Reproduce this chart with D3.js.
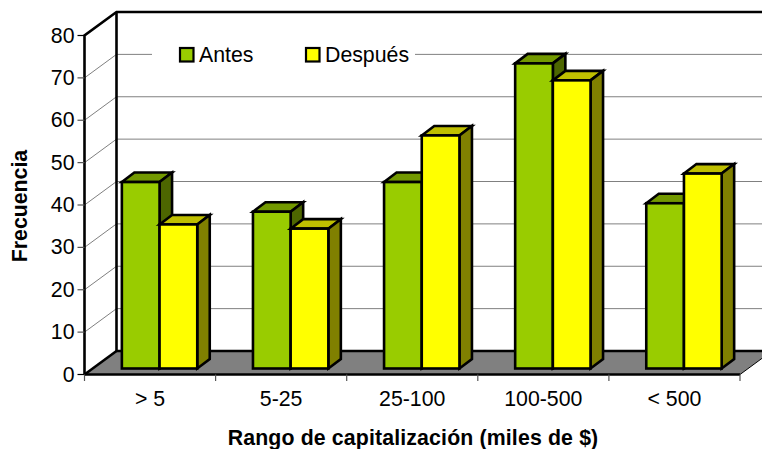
<!DOCTYPE html>
<html>
<head>
<meta charset="utf-8">
<script src="https://cdn.jsdelivr.net/npm/d3@7"></script>
<style>
  html, body { margin: 0; padding: 0; background: #fff; }
  svg { display: block; }
  text { font-family: "Liberation Sans", Arial, Helvetica, sans-serif; fill: #000; }
</style>
</head>
<body>
<script>
const categories = ["> 5", "5-25", "25-100", "100-500", "< 500"];
const antes = [44, 37, 44, 72, 39];
const despues = [34, 33, 55, 68, 46];
const seriesNames = ["Antes", "Después"];
const yTicks = [0, 10, 20, 30, 40, 50, 60, 70, 80];

const width = 762;
const height = 449;
// front plane of the 3D box, the back wall sits at (+depthX, -depthY)
const plot = { left: 84.5, right: 740, top: 35.5, bottom: 374.5 };
const depthX = 32;
const depthY = 23.5;
// bars stand a little behind the front edge and have their own depth
const barShiftY = 6;
const barDepthX = 12.5;
const barDepthY = 9.5;
const fontSize = 21.3;

const colors = {
  antes: { front: "#99cc00", top: "#739900", side: "#4d6600" },
  despues: { front: "#ffff00", top: "#bfbf00", side: "#808000" },
  floor: "#808080",
  grid: "#808080",
};

const svg = d3.select("body")
  .append("svg")
  .attr("width", width)
  .attr("height", height)
  .attr("viewBox", `0 0 ${width} ${height}`);

const y = d3.scaleLinear().domain([0, 80]).range([plot.bottom, plot.top]);
const x = d3.scaleBand().domain(categories).range([plot.left, plot.right]).paddingInner(0).paddingOuter(0);
const inner = d3.scaleBand().domain(seriesNames).range([x.bandwidth() * 0.285, x.bandwidth() * 0.86]);

const poly = (pts) => pts.map((p) => p.join(",")).join(" ");

// gridlines on the back and side walls
const grid = svg.append("g").attr("fill", "none").attr("stroke", colors.grid).attr("stroke-width", 1);
yTicks.filter((d) => d > 0 && d < 80).forEach((d) => {
  grid.append("line")
    .attr("x1", plot.left).attr("y1", y(d))
    .attr("x2", plot.left + depthX).attr("y2", y(d) - depthY);
  grid.append("line")
    .attr("x1", plot.left + depthX).attr("y1", y(d) - depthY)
    .attr("x2", width).attr("y2", y(d) - depthY);
});

// floor
svg.append("polygon")
  .attr("points", poly([
    [plot.left, plot.bottom],
    [plot.left + depthX, plot.bottom - depthY],
    [plot.right + depthX, plot.bottom - depthY],
    [plot.right, plot.bottom],
  ]))
  .attr("fill", colors.floor)
  .attr("stroke", "#000")
  .attr("stroke-width", 1);

// wall edges
const edges = svg.append("g").attr("stroke", "#000").attr("fill", "none").attr("stroke-width", 2.6);
edges.append("path").attr("d", d3.line()([
  [plot.left, plot.bottom],
  [plot.left, plot.top],
  [plot.left + depthX, plot.top - depthY],
  [width, plot.top - depthY],
]));
edges.append("path").attr("d", d3.line()([
  [plot.left + depthX, plot.top - depthY],
  [plot.left + depthX, plot.bottom - depthY],
  [width, plot.bottom - depthY],
]));
edges.append("path").attr("d", d3.line()([
  [plot.left, plot.bottom],
  [plot.right, plot.bottom],
]));
edges.append("path").attr("d", d3.line()([
  [plot.left, plot.bottom],
  [plot.left + depthX, plot.bottom - depthY],
]));

// bars
const rows = [
  { name: seriesNames[0], values: antes, c: colors.antes },
  { name: seriesNames[1], values: despues, c: colors.despues },
];
const bars = svg.append("g").attr("stroke", "#000").attr("stroke-width", 2.6).attr("stroke-linejoin", "miter");
categories.forEach((cat, i) => {
  rows.forEach((row) => {
    const x0 = x(cat) + inner(row.name);
    const x1 = x0 + inner.bandwidth();
    const yb = y(0) - barShiftY;
    const yt = y(row.values[i]) - barShiftY;
    bars.append("polygon")
      .attr("points", poly([[x0, yt], [x0 + barDepthX, yt - barDepthY], [x1 + barDepthX, yt - barDepthY], [x1, yt]]))
      .attr("fill", row.c.top);
    bars.append("polygon")
      .attr("points", poly([[x1, yt], [x1 + barDepthX, yt - barDepthY], [x1 + barDepthX, yb - barDepthY], [x1, yb]]))
      .attr("fill", row.c.side);
    bars.append("rect")
      .attr("x", x0).attr("y", yt)
      .attr("width", x1 - x0).attr("height", yb - yt)
      .attr("fill", row.c.front);
  });
});

// y axis ticks and labels
const yAxis = svg.append("g");
yTicks.forEach((d) => {
  yAxis.append("line")
    .attr("x1", plot.left - 7).attr("x2", plot.left)
    .attr("y1", y(d)).attr("y2", y(d))
    .attr("stroke", d === 0 || d === 80 ? "#000" : "#555")
    .attr("stroke-width", 1.2);
  yAxis.append("text")
    .attr("x", plot.left - 10)
    .attr("y", y(d) + 7)
    .attr("text-anchor", "end")
    .attr("font-size", fontSize)
    .text(d);
});

// x axis ticks and labels
const xAxis = svg.append("g");
d3.range(categories.length + 1).forEach((i) => {
  const tx = plot.left + i * x.bandwidth();
  xAxis.append("line")
    .attr("x1", tx).attr("x2", tx)
    .attr("y1", plot.bottom).attr("y2", plot.bottom + 6.5)
    .attr("stroke", "#555")
    .attr("stroke-width", 1.2);
});
categories.forEach((cat) => {
  xAxis.append("text")
    .attr("x", x(cat) + x.bandwidth() / 2)
    .attr("y", 405.5)
    .attr("text-anchor", "middle")
    .attr("font-size", fontSize)
    .text(cat);
});

// axis titles
svg.append("text")
  .attr("x", 413)
  .attr("y", 445)
  .attr("text-anchor", "middle")
  .attr("font-size", fontSize)
  .attr("font-weight", 700)
  .attr("letter-spacing", 0.14)
  .text("Rango de capitalización (miles de $)");

svg.append("text")
  .attr("transform", "translate(27,206) rotate(-90)")
  .attr("text-anchor", "middle")
  .attr("font-size", fontSize)
  .attr("font-weight", 700)
  .text("Frecuencia");

// legend, white box hides the gridline behind it
const legend = svg.append("g");
legend.append("rect")
  .attr("x", 152).attr("y", 36)
  .attr("width", 263).attr("height", 36)
  .attr("fill", "#fff");
[
  { name: seriesNames[0], fill: colors.antes.front, sx: 179 },
  { name: seriesNames[1], fill: colors.despues.front, sx: 305 },
].forEach((d) => {
  legend.append("rect")
    .attr("x", d.sx + 1).attr("y", 48)
    .attr("width", 13.5).attr("height", 13.5)
    .attr("fill", d.fill)
    .attr("stroke", "#000")
    .attr("stroke-width", 2.2);
  legend.append("text")
    .attr("x", d.sx + 20)
    .attr("y", 62)
    .attr("font-size", fontSize)
    .text(d.name);
});
</script>
</body>
</html>
